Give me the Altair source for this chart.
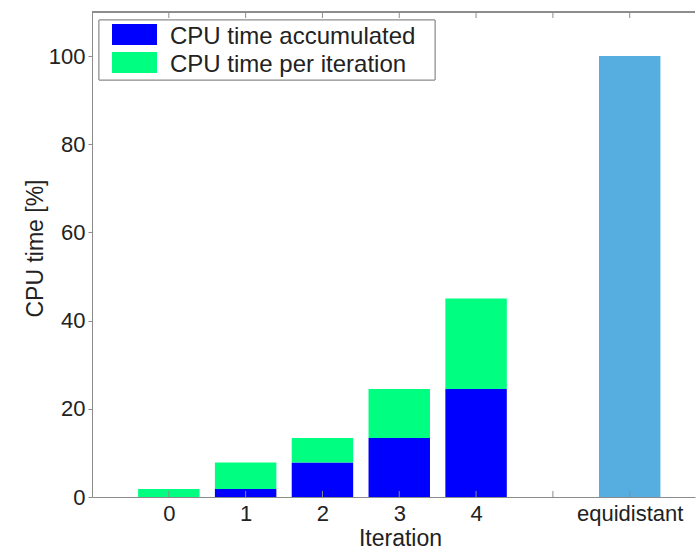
import altair as alt
import pandas as pd

# ---- data ----
iterations = [0, 1, 2, 3, 4]
accumulated = [0.0, 1.8, 7.8, 13.4, 24.5]
per_iteration = [1.8, 6.0, 5.6, 11.1, 20.5]
ref_label = "equidistant"
ref_pos = [6]
ref_value = [100.0]
series = ["CPU time accumulated", "CPU time per iteration"]
series_colors = ["#0000FF", "#00FF80"]
ref_color = "#56AEE0"
x_tick_values = [0, 1, 2, 3, 4, 5, 6]
y_tick_values = [0, 20, 40, 60, 80, 100]

rows = []
for it, acc, per in zip(iterations, accumulated, per_iteration):
    rows.append({"pos": it, "start": 0.0, "end": acc, "series": series[0]})
    rows.append({"pos": it, "start": acc, "end": acc + per, "series": series[1]})
df = pd.DataFrame(rows)
ref_df = pd.DataFrame({"pos": ref_pos, "start": [0.0], "end": ref_value})
ticks_df = pd.DataFrame({"t": x_tick_values})
legend_df = pd.DataFrame({"series": series})

W, H = 603, 485
FONT = "Liberation Sans"
AX = "#8c8c8c"
TXT = "#222222"

xscale = alt.Scale(domain=[-1, 6.85], nice=False, zero=False)
yscale = alt.Scale(domain=[0, 110], nice=False, zero=False)
cscale = alt.Scale(domain=series, range=series_colors)

label_expr = ("datum.value == 6 ? '" + ref_label + "' : (datum.value == 5 ? '' : format(datum.value, 'd'))")

x_axis = alt.Axis(values=x_tick_values, labelExpr=label_expr, title="Iteration",
                  tickSize=0, labelPadding=6, titlePadding=3, titleX=308,
                  titleAlign="center", labelFlush=False, labelFontSize=22,
                  titleFontSize=23, grid=False)
y_axis = alt.Axis(values=y_tick_values, title="CPU time [%]", tickSize=4,
                  tickColor=AX, labelPadding=3, titlePadding=1, titleY=236,
                  labelFontSize=22, titleFontSize=23, grid=False)

bars = alt.Chart(df).transform_calculate(
    x0="datum.pos - 0.4", x1="datum.pos + 0.4"
).mark_bar().encode(
    x=alt.X("x0:Q", scale=xscale, axis=x_axis),
    x2="x1:Q",
    y=alt.Y("start:Q", scale=yscale, axis=y_axis),
    y2="end:Q",
    color=alt.Color("series:N", scale=cscale, legend=None),
)

ref_bar = alt.Chart(ref_df).transform_calculate(
    x0="datum.pos - 0.4", x1="datum.pos + 0.4"
).mark_bar(color=ref_color).encode(
    x=alt.X("x0:Q", scale=xscale),
    x2="x1:Q",
    y=alt.Y("start:Q", scale=yscale),
    y2="end:Q",
)

bottom_ticks = alt.Chart(ticks_df).mark_rule(color=AX).encode(
    x=alt.X("t:Q", scale=xscale),
    y=alt.value(H), y2=alt.value(H - 6),
)
top_ticks = alt.Chart(ticks_df).mark_rule(color=AX).encode(
    x=alt.X("t:Q", scale=xscale),
    y=alt.value(0), y2=alt.value(6),
)
top_line = alt.Chart(ticks_df).mark_rule(color=AX).encode(
    x=alt.value(0), x2=alt.value(W), y=alt.value(0),
)

# ---- legend (box, swatches, labels) ----
legend_box = alt.Chart(legend_df).mark_rect(
    fill="white", stroke=AX, strokeWidth=1
).encode(
    x=alt.value(7), x2=alt.value(343), y=alt.value(8), y2=alt.value(68),
)
legend_layers = [legend_box]
for i, s in enumerate(series):
    sub = alt.Chart(legend_df).transform_filter(alt.datum.series == s)
    legend_layers.append(
        sub.mark_rect().encode(
            x=alt.value(20), x2=alt.value(65),
            y=alt.value(12 + 28 * i), y2=alt.value(33 + 28 * i),
            color=alt.Color("series:N", scale=cscale, legend=None),
        )
    )
    legend_layers.append(
        sub.mark_text(align="left", baseline="alphabetic", font=FONT,
                      fontSize=24, color=TXT).encode(
            x=alt.value(78), y=alt.value(32 + 28 * i), text="series:N",
        )
    )

chart = alt.layer(bars, ref_bar, bottom_ticks, top_ticks, top_line,
                  *legend_layers).properties(
    width=W, height=H,
    background="white",
    autosize=alt.AutoSizeParams(type="none"),
    padding={"left": 92, "top": 12, "right": 1, "bottom": 57},
).configure_view(stroke=None).configure_axis(
    domainColor=AX, grid=False,
    labelFont=FONT, labelColor=TXT,
    titleFont=FONT, titleColor=TXT, titleFontWeight="normal",
)

chart.save("out.html", embed_options={"renderer": "svg", "actions": False})
